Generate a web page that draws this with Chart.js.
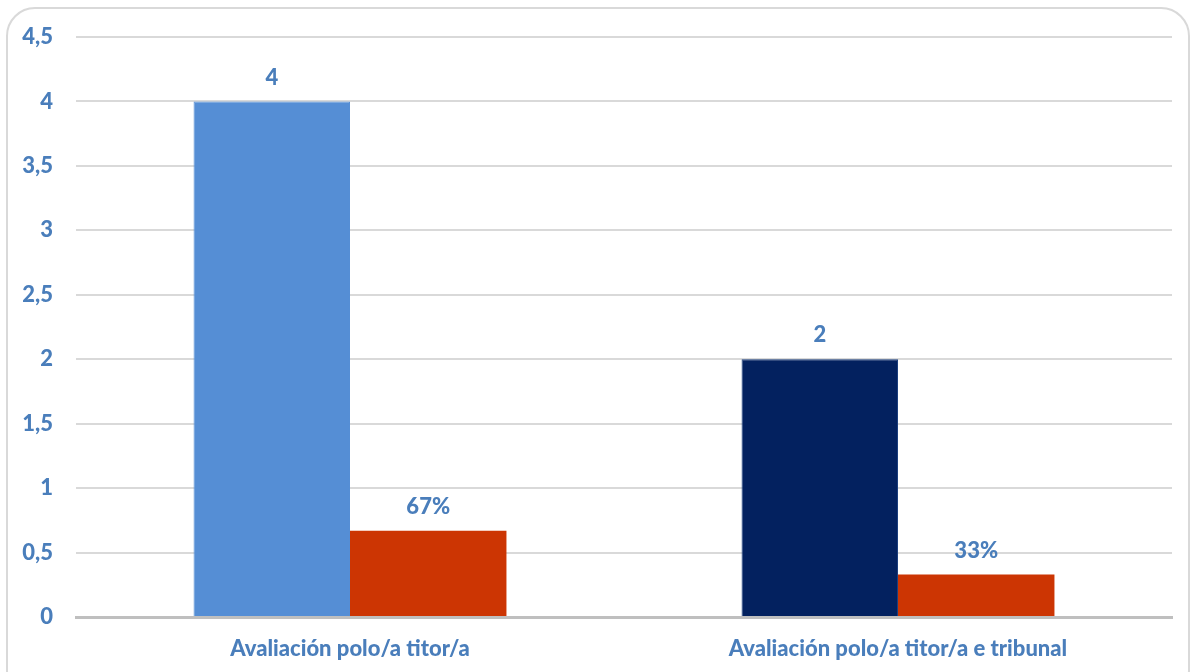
<!DOCTYPE html>
<html>
<head>
<meta charset="utf-8">
<script src="https://cdn.jsdelivr.net/npm/chart.js@4/dist/chart.umd.min.js"></script>
<style>
  html, body { margin: 0; padding: 0; background: #fff; }
  #wrap { position: relative; width: 1197px; height: 672px; }
</style>
</head>
<body>
<div id="wrap"><canvas id="evalChart" width="1197" height="672"></canvas></div>
<script>
// data
var categories = ['Avaliación polo/a titor/a', 'Avaliación polo/a titor/a e tribunal'];
var counts = [4, 2];
var shares = [0.67, 0.33];
var shareLabels = ['67%', '33%'];
var yTicks = [0, 0.5, 1, 1.5, 2, 2.5, 3, 3.5, 4, 4.5];

var textBlue = '#4a7ebb';
var font = "Lato, 'Open Sans', sans-serif";

// rounded frame round the whole chart
var framePlugin = {
    id: 'frame',
    beforeDraw: function (chart) {
        var c = chart.ctx;
        c.save();
        c.fillStyle = '#fff';
        c.fillRect(0, 0, chart.width, chart.height);
        c.strokeStyle = '#d9d9d9';
        c.lineWidth = 2;
        c.beginPath();
        c.roundRect(7, 8, 1182, 690, 28);
        c.stroke();
        c.restore();
    }
};

// value labels above each bar
var labelPlugin = {
    id: 'barLabels',
    afterDatasetsDraw: function (chart) {
        var c = chart.ctx;
        c.save();
        c.font = '900 22px ' + font;
        c.fillStyle = textBlue;
        c.textAlign = 'center';
        c.textBaseline = 'middle';
        chart.data.datasets.forEach(function (ds, i) {
            chart.getDatasetMeta(i).data.forEach(function (bar, j) {
                var txt = ds.valueLabels ? ds.valueLabels[j] : String(ds.data[j]).replace('.', ',');
                c.fillText(txt, bar.x, bar.y - 24);
            });
        });
        c.restore();
    }
};

var ctxEval = document.getElementById('evalChart').getContext('2d');
var evalChart = new Chart(ctxEval, {
    type: 'bar',
    data: {
        labels: categories,
        datasets: [{
            label: 'Número',
            data: counts,
            backgroundColor: ['#558ed5', '#03215f'],
            borderColor: ['#558ed5', '#1c3f7e'],
            borderWidth: 1
        }, {
            label: 'Porcentaxe',
            data: shares,
            valueLabels: shareLabels,
            backgroundColor: '#cc3503',
            borderWidth: 0
        }]
    },
    plugins: [framePlugin, labelPlugin],
    options: {
        responsive: false,
        animation: false,
        layout: { padding: { left: 0, right: 25, top: 37, bottom: 0 } },
        plugins: {
            legend: { display: false },
            tooltip: { enabled: false }
        },
        datasets: {
            bar: { categoryPercentage: 0.571, barPercentage: 1 }
        },
        scales: {
            x: {
                grid: { display: false, drawTicks: false },
                border: { color: '#bfbfbf', width: 3 },
                ticks: {
                    color: textBlue,
                    font: { family: font, size: 22, weight: '900' },
                    padding: 19
                },
                afterFit: function (scale) { scale.height = 55; }
            },
            y: {
                min: 0,
                max: 4.5,
                afterBuildTicks: function (scale) {
                    scale.ticks = yTicks.map(function (v) { return { value: v }; });
                },
                grid: { color: '#d9d9d9', lineWidth: 2, drawTicks: false },
                border: { display: false },
                ticks: {
                    color: textBlue,
                    font: { family: font, size: 22, weight: '900' },
                    padding: 23,
                    callback: function (v) { return String(v).replace('.', ','); }
                },
                afterFit: function (scale) { scale.width = 76; }
            }
        }
    }
});
</script>
</body>
</html>
